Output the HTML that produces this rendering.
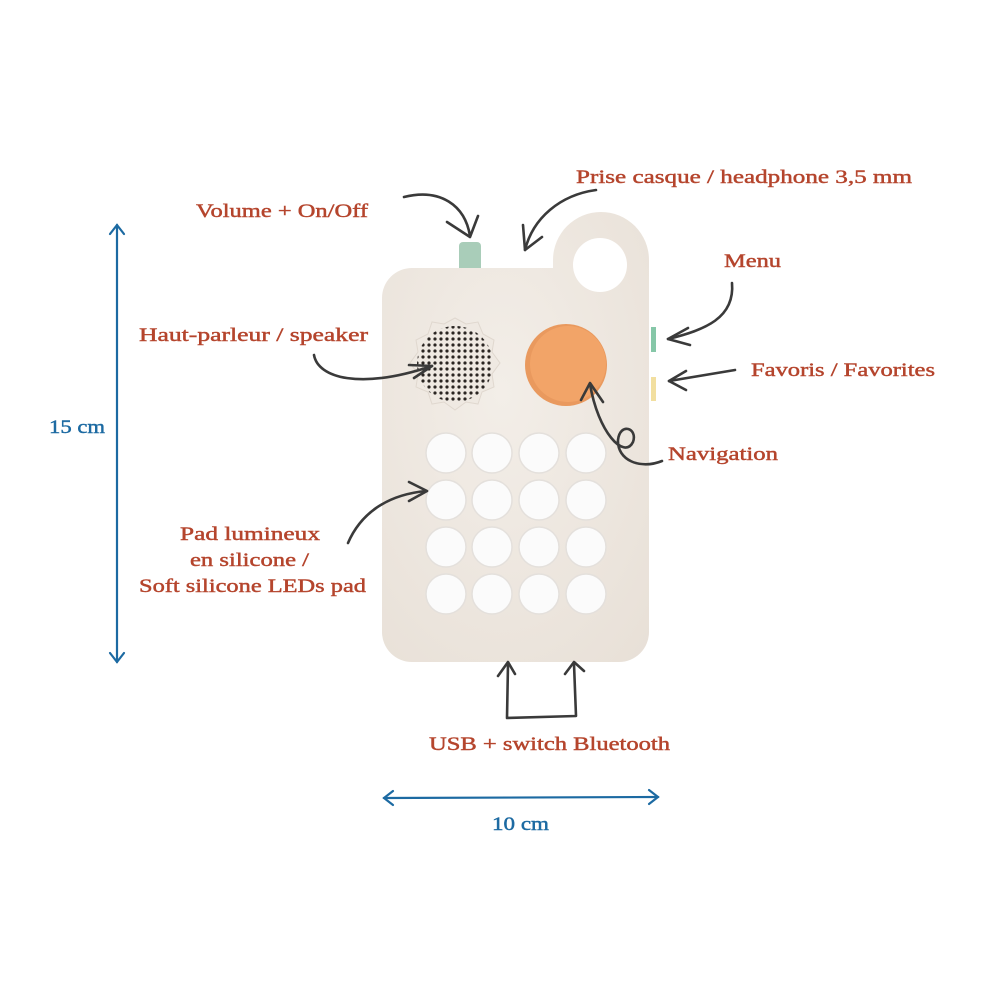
<!DOCTYPE html>
<html><head><meta charset="utf-8"><style>html,body{margin:0;padding:0;background:#fff}svg{display:block}</style></head>
<body>
<svg width="1000" height="1000" viewBox="0 0 1000 1000" xmlns="http://www.w3.org/2000/svg">
<defs>
<pattern id="dots" width="6" height="6" patternUnits="userSpaceOnUse"><circle cx="3" cy="3" r="1.6" fill="#2a2522"/></pattern>
<radialGradient id="bodyg" cx="0.45" cy="0.4" r="0.8"><stop offset="0" stop-color="#f3eee8"/><stop offset="1" stop-color="#e8e0d7"/></radialGradient>
</defs>
<rect width="1000" height="1000" fill="#fff"/>
<rect x="459" y="242" width="22" height="34" rx="4" fill="#a9cdb9"/>
<rect x="651" y="327" width="5" height="25" fill="#86c7a8"/>
<rect x="651" y="377" width="5" height="24" fill="#f2dfa0"/>
<path d="M412 268 L553 268 L553 260 A48 48 0 0 1 649 260 L649 632 A30 30 0 0 1 619 662 L412 662 A30 30 0 0 1 382 632 L382 298 A30 30 0 0 1 412 268 Z" fill="url(#bodyg)"/>
<circle cx="600" cy="265" r="27" fill="#fff"/>
<polygon points="455,318 466,324 478,322 483,334 494,340 492,352 500,363 492,374 494,387 482,392 478,404 466,402 455,410 444,402 432,404 428,392 416,387 418,374 410,363 418,352 416,340 428,334 432,322 444,324" fill="#efe9e2" stroke="#e0d8cf"/>
<circle cx="455" cy="364" r="38" fill="url(#dots)"/>
<circle cx="566" cy="365" r="41" fill="#e9995e"/>
<circle cx="568" cy="364" r="38" fill="#f2a468"/>
<g fill="#fbfbfb" stroke="#e4e0dc" stroke-width="1.5">
<circle cx="446" cy="453" r="20"/><circle cx="492" cy="453" r="20"/><circle cx="539" cy="453" r="20"/><circle cx="586" cy="453" r="20"/>
<circle cx="446" cy="500" r="20"/><circle cx="492" cy="500" r="20"/><circle cx="539" cy="500" r="20"/><circle cx="586" cy="500" r="20"/>
<circle cx="446" cy="547" r="20"/><circle cx="492" cy="547" r="20"/><circle cx="539" cy="547" r="20"/><circle cx="586" cy="547" r="20"/>
<circle cx="446" cy="594" r="20"/><circle cx="492" cy="594" r="20"/><circle cx="539" cy="594" r="20"/><circle cx="586" cy="594" r="20"/>
</g>
<g stroke="#1c6aa2" stroke-width="2.2" fill="none" stroke-linecap="round">
<path d="M117 225 L117 662"/><path d="M110 234 L117 225 L124 234"/><path d="M110 653 L117 662 L124 653"/>
<path d="M384 798 L658 797"/><path d="M393 791 L384 798 L393 805"/><path d="M649 790 L658 797 L649 804"/>
</g>
<g stroke="#3a3a3a" stroke-width="2.6" fill="none" stroke-linecap="round" stroke-linejoin="round">
<path d="M404 197 C440 188 465 205 470 236"/><path d="M447 222 L470 237 L478 216"/>
<path d="M596 190 C560 195 533 218 525 250"/><path d="M523 225 L525 250 L542 237"/>
<path d="M732 283 C735 318 705 330 668 339"/><path d="M688 328 L668 339 L690 345"/>
<path d="M735 370 L669 381"/><path d="M686 371 L669 381 L686 390"/>
<path d="M314 355 C318 378 360 390 432 366"/><path d="M409 365 L432 366 L414 378"/>
<path d="M662 461 C640 470 617 460 618 440 C620 422 638 428 633 442 C624 460 598 432 590 384"/><path d="M581 400 L590 383 L603 402"/>
<path d="M348 543 C360 515 385 495 426 491"/><path d="M409 482 L427 491 L409 501"/>
<path d="M508 664 L507 718 L576 716 L574 664"/><path d="M498 676 L508 662 L515 674"/><path d="M565 674 L574 662 L584 671"/>
</g>
<g font-family="'Liberation Serif', serif" font-size="19" fill="#b5452d" stroke="#b5452d" stroke-width="0.45">
<text x="196" y="217" textLength="172" lengthAdjust="spacingAndGlyphs">Volume + On/Off</text>
<text x="576" y="183" textLength="336" lengthAdjust="spacingAndGlyphs">Prise casque / headphone 3,5 mm</text>
<text x="724" y="267" textLength="57" lengthAdjust="spacingAndGlyphs">Menu</text>
<text x="139" y="341" textLength="229" lengthAdjust="spacingAndGlyphs">Haut-parleur / speaker</text>
<text x="751" y="376" textLength="184" lengthAdjust="spacingAndGlyphs">Favoris / Favorites</text>
<text x="668" y="460" textLength="110" lengthAdjust="spacingAndGlyphs">Navigation</text>
<text x="180" y="540" textLength="140" lengthAdjust="spacingAndGlyphs">Pad lumineux</text>
<text x="190" y="566" textLength="119" lengthAdjust="spacingAndGlyphs">en silicone /</text>
<text x="139" y="592" textLength="227" lengthAdjust="spacingAndGlyphs">Soft silicone LEDs pad</text>
<text x="429" y="750" textLength="241" lengthAdjust="spacingAndGlyphs">USB + switch Bluetooth</text>
</g>
<g font-family="'Liberation Serif', serif" font-size="19" fill="#1c6aa2" stroke="#1c6aa2" stroke-width="0.45">
<text x="49" y="433" textLength="56" lengthAdjust="spacingAndGlyphs">15 cm</text>
<text x="492" y="830" textLength="57" lengthAdjust="spacingAndGlyphs">10 cm</text>
</g>
</svg>
</body></html>
